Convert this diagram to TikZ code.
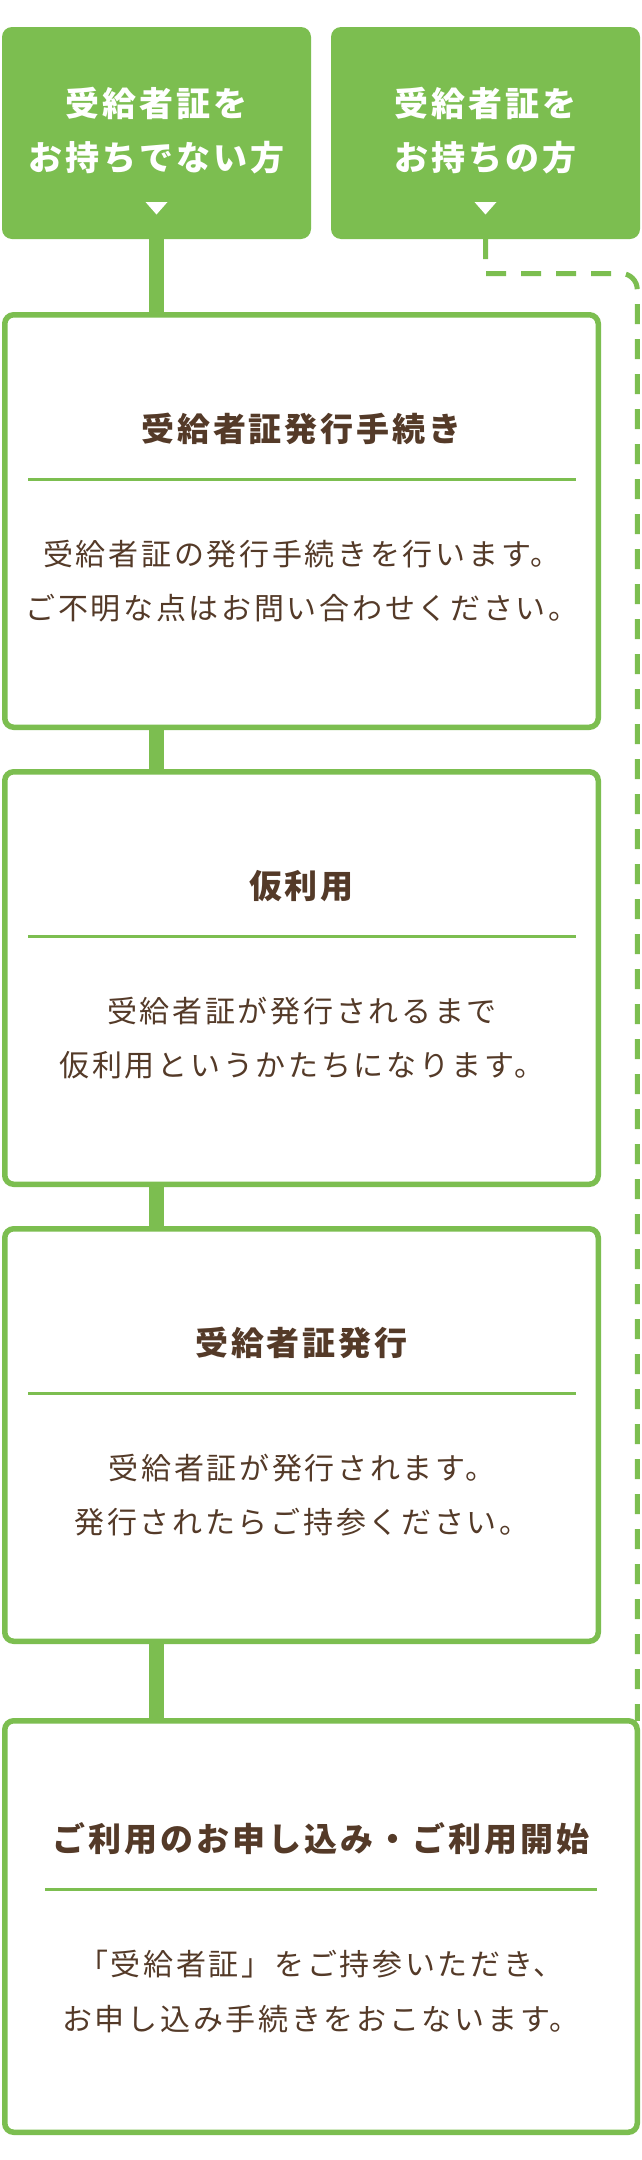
\documentclass[tikz,border=0pt]{standalone}
\usepackage{fontspec}
\usetikzlibrary{calc}
\newfontfamily\jp[LetterSpace=9]{Noto Sans CJK JP}
\definecolor{grn}{RGB}{124,190,80}
\definecolor{brn}{RGB}{84,58,40}
\tikzset{
  stepbox/.style={draw=grn, line width=5.5pt, rounded corners=9pt, fill=white, inner sep=0pt, outer sep=0pt},
  headbox/.style={fill=grn, rounded corners=10pt, inner sep=0pt, outer sep=0pt, minimum height=212pt},
  conn/.style={draw=grn, line width=15pt},
  dashline/.style={draw=grn, line width=5pt, dash pattern=on 20pt off 15pt},
  divline/.style={draw=grn, line width=3pt},
  ttl/.style={font=\jp\bfseries\fontsize{33}{40}\selectfont, text=brn, anchor=base, inner sep=0pt},
  txt/.style={font=\jp\fontsize{30}{40}\selectfont, text=brn, anchor=base, inner sep=0pt},
  headtxt/.style={font=\jp\bfseries\fontsize{34}{40}\selectfont, text=white, anchor=base, inner sep=0pt},
  tri/.style={fill=white},
}
\begin{document}
\begin{tikzpicture}[x=1pt,y=-1pt]
\useasboundingbox (0,0) rectangle (641,2160);
\fill[white] (0,0) rectangle (641,2160);

% header boxes
\node[headbox, minimum width=309pt] (g1) at (156.5,133) {};
\node[headbox, minimum width=309pt] (g2) at (485.5,133) {};
\node[headtxt] (g1a) at (156.5,116) {受給者証を};
\node[headtxt] (g1b) at (156.5,170) {お持ちでない方};
\node[headtxt] (g2a) at (485.5,116) {受給者証を};
\node[headtxt] (g2b) at (485.5,170) {お持ちの方};
\fill[tri] (145.5,202) -- (167.5,202) -- (156.5,214.5) -- cycle;
\fill[tri] (474.5,202) -- (496.5,202) -- (485.5,214.5) -- cycle;

% step boxes
\node[stepbox, minimum width=593.5pt, minimum height=412.5pt] (b1) at (301.5,521) {};
\node[stepbox, minimum width=593.5pt, minimum height=412.5pt] (b2) at (301.5,978) {};
\node[stepbox, minimum width=593.5pt, minimum height=412.5pt] (b3) at (301.5,1435) {};
\node[stepbox, minimum width=632.5pt, minimum height=411.5pt] (b4) at (321,1926.5) {};

% box 1
\node[ttl] (t1) at (301.5,441) {受給者証発行手続き};
\draw[divline] (28,479) -- (576,479);
\node[txt] (p1a) at (302,565) {受給者証の発行手続きを行います。};
\node[txt] (p1b) at (302,619) {ご不明な点はお問い合わせください。};

% box 2
\node[ttl] (t2) at (301.5,898) {仮利用};
\draw[divline] (28,936) -- (576,936);
\node[txt] (p2a) at (302,1022) {受給者証が発行されるまで};
\node[txt] (p2b) at (302,1076) {仮利用というかたちになります。};

% box 3
\node[ttl] (t3) at (301.5,1355) {受給者証発行};
\draw[divline] (28,1393) -- (576,1393);
\node[txt] (p3a) at (302,1479) {受給者証が発行されます。};
\node[txt] (p3b) at (302,1533) {発行されたらご持参ください。};

% box 4
\node[ttl] (t4) at (321,1851) {ご利用のお申し込み・ご利用開始};
\draw[divline] (45,1889) -- (597,1889);
\node[txt] (p4a) at (321,1975) {「受給者証」をご持参いただき、};
\node[txt] (p4b) at (321,2030) {お申し込み手続きをおこないます。};

% connectors
\draw[conn] (g1.south) -- (g1.south |- b1.north);
\draw[conn] (b1.south -| g1.south) -- (b2.north -| g1.south);
\draw[conn] (b2.south -| g1.south) -- (b3.north -| g1.south);
\draw[conn] (b3.south -| g1.south) -- (b4.north -| g1.south);

% dashed route
\coordinate (dk) at (485.5,273.5);
\coordinate (dc) at (dk -| b4.north east);
\draw[dashline] (g2.south) -- (dk) -- ($(dc)+(-16,0)$)
  .. controls ($(dc)+(-7.16,0)$) and ($(dc)+(0,7.16)$) .. ($(dc)+(0,16)$)
  -- (b4.north east);
\end{tikzpicture}
\end{document}
